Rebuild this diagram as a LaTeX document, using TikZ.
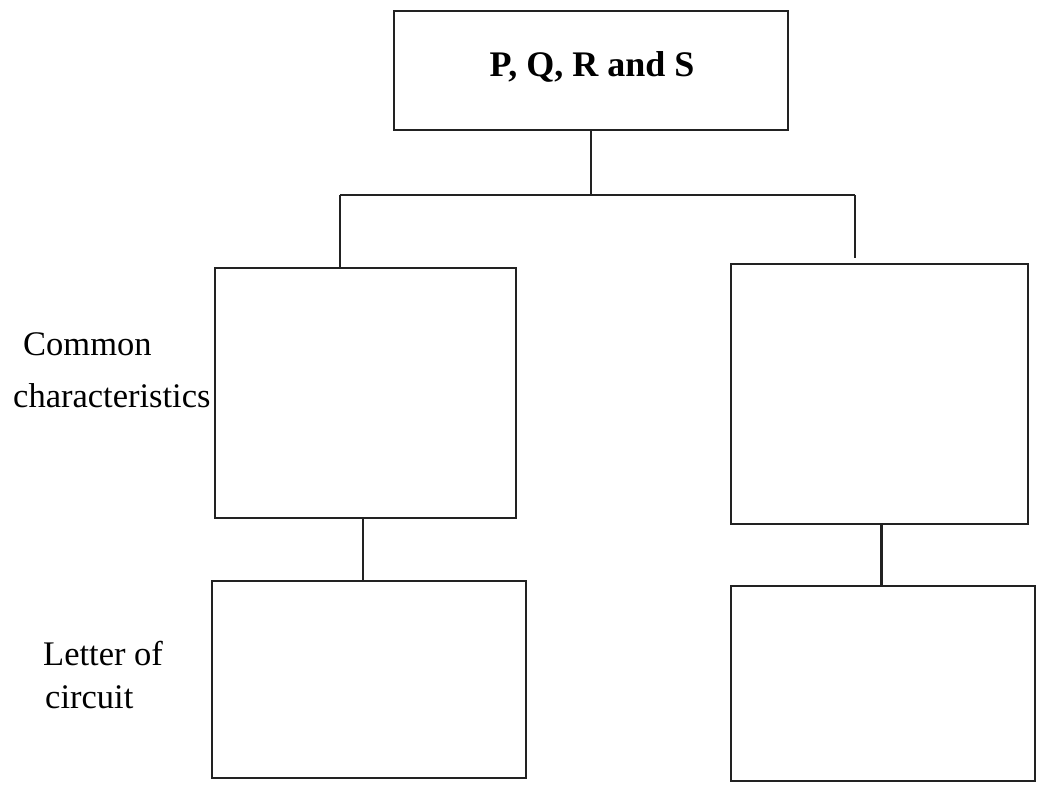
\documentclass[tikz,border=0pt]{standalone}
\usepackage{fontspec}
\setmainfont{Liberation Serif}
\definecolor{linec}{HTML}{222222}
\begin{document}
\begin{tikzpicture}[x=1pt,y=-1pt,
  box/.style={draw=linec, line width=2.6pt, inner sep=0pt, anchor=center},
  conn/.style={draw=linec, line width=2.6pt},
  lbl/.style={anchor=base west, inner sep=0pt, font=\fontsize{34.5}{40}\selectfont},
  ttl/.style={font=\fontsize{36}{42}\selectfont\bfseries}]
\fill[white] (0,0) rectangle (1061,788);
\useasboundingbox (0,0) rectangle (1061,788);
% boxes
\node[box, minimum width=394pt, minimum height=119pt] (top) at (591,70.5) {};
\node[ttl] (title) at (592,67) {P, Q, R and S};
\node[box, minimum width=301pt, minimum height=250pt] (lm) at (365.5,393) {};
\node[box, minimum width=297pt, minimum height=260pt] (rm) at (879.5,394) {};
\node[box, minimum width=314pt, minimum height=197pt] (lb) at (369,679.5) {};
\node[box, minimum width=304pt, minimum height=195pt] (rb) at (883,683.5) {};
% junctions
\coordinate (jl) at (340,195);
\coordinate (jr) at (855,195);
% connectors
\draw[conn] (top.south) -- (top.south |- jl);
\draw[conn] (jl) -- (jr);
\draw[conn] (jl) -- (jl |- lm.north);
\draw[conn] (jr) -- ([yshift=5pt]jr |- rm.north);
\draw[conn] ([xshift=-2.5pt]lm.south) -- ([xshift=-2.5pt]lm.south |- lb.north);
\draw[conn] ([xshift=2pt]rm.south) -- ([xshift=2pt]rm.south |- rb.north);
% labels
\node[lbl] (common) at (23,355) {Common};
\node[lbl] (charac) at (13,407) {characteristics};
\node[lbl] (letter) at (43,665) {Letter of};
\node[lbl] (circuit) at (45,708) {circuit};
\end{tikzpicture}
\end{document}
